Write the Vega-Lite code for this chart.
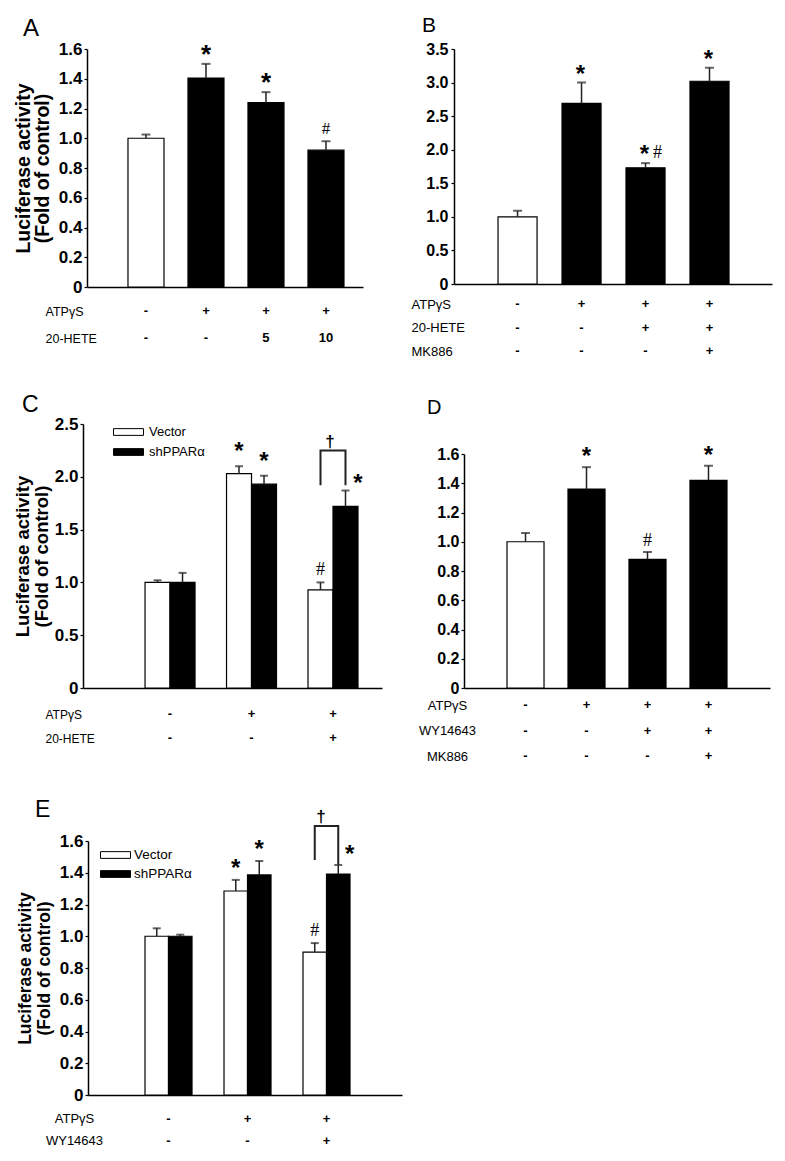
{
  "$schema": "https://vega.github.io/schema/vega-lite/v6.json",
  "padding": {"left": 13, "top": 15, "right": 5, "bottom": 5},
  "background": "white",
  "columns": 2,
  "bounds": "flush",
  "align": {"row": "each", "column": "each"},
  "spacing": {"row": 4, "column": 51},
  "resolve": {"scale": {"x": "independent", "y": "independent", "fill": "independent", "xOffset": "independent"}, "legend": {"fill": "independent"}},
  "datasets": {
    "A": [
      {"cond": "c1", "value": 1.0, "upper": 1.025, "star": "", "hash": ""},
      {"cond": "c2", "value": 1.405, "upper": 1.5, "star": "*", "hash": ""},
      {"cond": "c3", "value": 1.24, "upper": 1.31, "star": "*", "hash": ""},
      {"cond": "c4", "value": 0.92, "upper": 0.98, "star": "", "hash": "#"}
    ],
    "A_tab": [
      {"cond": "c1", "factor": "ATPγS", "val": "-"},
      {"cond": "c2", "factor": "ATPγS", "val": "+"},
      {"cond": "c3", "factor": "ATPγS", "val": "+"},
      {"cond": "c4", "factor": "ATPγS", "val": "+"},
      {"cond": "c1", "factor": "20-HETE", "val": "-"},
      {"cond": "c2", "factor": "20-HETE", "val": "-"},
      {"cond": "c3", "factor": "20-HETE", "val": "5"},
      {"cond": "c4", "factor": "20-HETE", "val": "10"}
    ],
    "B": [
      {"cond": "c1", "value": 1.0, "upper": 1.09, "star": "", "hash": ""},
      {"cond": "c2", "value": 2.69, "upper": 3.0, "star": "*", "hash": ""},
      {"cond": "c3", "value": 1.73, "upper": 1.8, "star": "*", "hash": "#"},
      {"cond": "c4", "value": 3.02, "upper": 3.22, "star": "*", "hash": ""}
    ],
    "B_tab": [
      {"cond": "c1", "factor": "ATPγS", "val": "-"},
      {"cond": "c2", "factor": "ATPγS", "val": "+"},
      {"cond": "c3", "factor": "ATPγS", "val": "+"},
      {"cond": "c4", "factor": "ATPγS", "val": "+"},
      {"cond": "c1", "factor": "20-HETE", "val": "-"},
      {"cond": "c2", "factor": "20-HETE", "val": "-"},
      {"cond": "c3", "factor": "20-HETE", "val": "+"},
      {"cond": "c4", "factor": "20-HETE", "val": "+"},
      {"cond": "c1", "factor": "MK886", "val": "-"},
      {"cond": "c2", "factor": "MK886", "val": "-"},
      {"cond": "c3", "factor": "MK886", "val": "-"},
      {"cond": "c4", "factor": "MK886", "val": "+"}
    ],
    "C": [
      {"grp": "g1", "series": "Vector", "value": 1.0, "upper": 1.02, "star": "", "hash": "", "star_r": ""},
      {"grp": "g1", "series": "shPPARα", "value": 1.0, "upper": 1.09, "star": "", "hash": "", "star_r": ""},
      {"grp": "g2", "series": "Vector", "value": 2.03, "upper": 2.1, "star": "*", "hash": "", "star_r": ""},
      {"grp": "g2", "series": "shPPARα", "value": 1.93, "upper": 2.01, "star": "*", "hash": "", "star_r": ""},
      {"grp": "g3", "series": "Vector", "value": 0.93, "upper": 1.0, "star": "", "hash": "#", "star_r": ""},
      {"grp": "g3", "series": "shPPARα", "value": 1.72, "upper": 1.87, "star": "", "hash": "", "star_r": "*"}
    ],
    "C_br": [
      {"grp": "g3", "series": "Vector", "y": 1.92, "o": 1},
      {"grp": "g3", "series": "Vector", "y": 2.25, "o": 2},
      {"grp": "g3", "series": "shPPARα", "y": 2.25, "o": 3},
      {"grp": "g3", "series": "shPPARα", "y": 1.92, "o": 4}
    ],
    "C_dag": [{"grp": "g3", "y": 2.25, "sym": "†"}],
    "C_tab": [
      {"grp": "g1", "factor": "ATPγS", "val": "-"},
      {"grp": "g2", "factor": "ATPγS", "val": "+"},
      {"grp": "g3", "factor": "ATPγS", "val": "+"},
      {"grp": "g1", "factor": "20-HETE", "val": "-"},
      {"grp": "g2", "factor": "20-HETE", "val": "-"},
      {"grp": "g3", "factor": "20-HETE", "val": "+"}
    ],
    "D": [
      {"cond": "c1", "value": 1.0, "upper": 1.06, "star": "", "hash": ""},
      {"cond": "c2", "value": 1.36, "upper": 1.51, "star": "*", "hash": ""},
      {"cond": "c3", "value": 0.88, "upper": 0.93, "star": "", "hash": "#"},
      {"cond": "c4", "value": 1.42, "upper": 1.52, "star": "*", "hash": ""}
    ],
    "D_tab": [
      {"cond": "c1", "factor": "ATPγS", "val": "-"},
      {"cond": "c2", "factor": "ATPγS", "val": "+"},
      {"cond": "c3", "factor": "ATPγS", "val": "+"},
      {"cond": "c4", "factor": "ATPγS", "val": "+"},
      {"cond": "c1", "factor": "WY14643", "val": "-"},
      {"cond": "c2", "factor": "WY14643", "val": "-"},
      {"cond": "c3", "factor": "WY14643", "val": "+"},
      {"cond": "c4", "factor": "WY14643", "val": "+"},
      {"cond": "c1", "factor": "MK886", "val": "-"},
      {"cond": "c2", "factor": "MK886", "val": "-"},
      {"cond": "c3", "factor": "MK886", "val": "-"},
      {"cond": "c4", "factor": "MK886", "val": "+"}
    ],
    "E": [
      {"grp": "g1", "series": "Vector", "value": 1.0, "upper": 1.05, "star": "", "hash": "", "star_r": ""},
      {"grp": "g1", "series": "shPPARα", "value": 1.0, "upper": 1.01, "star": "", "hash": "", "star_r": ""},
      {"grp": "g2", "series": "Vector", "value": 1.285, "upper": 1.355, "star": "*", "hash": "", "star_r": ""},
      {"grp": "g2", "series": "shPPARα", "value": 1.386, "upper": 1.474, "star": "*", "hash": "", "star_r": ""},
      {"grp": "g3", "series": "Vector", "value": 0.9, "upper": 0.957, "star": "", "hash": "#", "star_r": ""},
      {"grp": "g3", "series": "shPPARα", "value": 1.392, "upper": 1.449, "star": "", "hash": "", "star_r": "*"}
    ],
    "E_br": [
      {"grp": "g3", "series": "Vector", "y": 1.48, "o": 1},
      {"grp": "g3", "series": "Vector", "y": 1.695, "o": 2},
      {"grp": "g3", "series": "shPPARα", "y": 1.695, "o": 3},
      {"grp": "g3", "series": "shPPARα", "y": 1.45, "o": 4}
    ],
    "E_dag": [{"grp": "g3", "y": 1.695, "sym": "†"}],
    "E_tab": [
      {"grp": "g1", "factor": "ATPγS", "val": "-"},
      {"grp": "g2", "factor": "ATPγS", "val": "+"},
      {"grp": "g3", "factor": "ATPγS", "val": "+"},
      {"grp": "g1", "factor": "WY14643", "val": "-"},
      {"grp": "g2", "factor": "WY14643", "val": "-"},
      {"grp": "g3", "factor": "WY14643", "val": "+"}
    ],
    "empty": []
  },
  "concat": [
    {
      "width": 320, "height": 238,
      "title": {"text": "A", "anchor": "start", "frame": "group", "dx": -60, "offset": -1, "fontSize": 24, "fontWeight": "normal"},
      "data": {"name": "A"},
      "encoding": {
        "x": {"field": "cond", "type": "nominal", "sort": null, "scale": {"type": "band", "range": [4, 280], "paddingInner": 0.4, "paddingOuter": 0.5, "align": 0.683}, "axis": {"labels": false, "ticks": false, "title": null}},
        "y": {"field": "value", "type": "quantitative", "scale": {"domain": [0, 1.6], "nice": false},
          "axis": {"offset": -4, "values": [0, 0.2, 0.4, 0.6, 0.8, 1, 1.2, 1.4, 1.6], "labelExpr": "datum.value == 0 ? '0' : format(datum.value, '.1f')", "title": ["Luciferase activity", "(Fold of control)"], "titleFontSize": 19.5, "titleFontWeight": "bold", "titleLineHeight": 19, "titlePadding": 6, "labelFontSize": 17, "labelFontWeight": "bold", "tickSize": 3, "labelPadding": 2}}
      },
      "layer": [
        {"mark": {"type": "bar", "stroke": "black", "strokeWidth": 1.2}, "encoding": {"fill": {"condition": {"test": "datum.cond == 'c1'", "value": "white"}, "value": "black"}}},
        {"mark": {"type": "rule", "strokeWidth": 1.5, "color": "#222"}, "encoding": {"y2": {"field": "upper"}}},
        {"mark": {"type": "tick", "thickness": 2, "size": 9, "color": "#222"}, "encoding": {"y": {"field": "upper", "type": "quantitative"}}},
        {"mark": {"type": "text", "fontSize": 26, "fontWeight": "bold", "baseline": "alphabetic", "dy": -1}, "encoding": {"y": {"field": "upper", "type": "quantitative"}, "text": {"field": "star"}}},
        {"mark": {"type": "text", "fontSize": 17, "font": "Liberation Serif", "baseline": "alphabetic", "dy": -7}, "encoding": {"y": {"field": "upper", "type": "quantitative"}, "text": {"field": "hash"}}}
      ]
    },
    {
      "width": 318, "height": 235,
      "title": {"text": "B", "anchor": "start", "frame": "group", "dx": -32, "offset": 5, "fontSize": 21, "fontWeight": "normal"},
      "data": {"name": "B"},
      "encoding": {
        "x": {"field": "cond", "type": "nominal", "sort": null, "scale": {"type": "band", "paddingInner": 0.39, "paddingOuter": 0.68, "align": 0.506}, "axis": {"labels": false, "ticks": false, "title": null}},
        "y": {"field": "value", "type": "quantitative", "scale": {"domain": [0, 3.5], "nice": false},
          "axis": {"values": [0, 0.5, 1, 1.5, 2, 2.5, 3, 3.5], "labelExpr": "datum.value == 0 ? '0' : format(datum.value, '.1f')", "title": null, "labelFontSize": 16, "labelFontWeight": "bold", "tickSize": 3, "labelPadding": 3}}
      },
      "layer": [
        {"mark": {"type": "bar", "stroke": "black", "strokeWidth": 1.2}, "encoding": {"fill": {"condition": {"test": "datum.cond == 'c1'", "value": "white"}, "value": "black"}}},
        {"mark": {"type": "rule", "strokeWidth": 1.5, "color": "#222"}, "encoding": {"y2": {"field": "upper"}}},
        {"mark": {"type": "tick", "thickness": 2, "size": 9, "color": "#222"}, "encoding": {"y": {"field": "upper", "type": "quantitative"}}},
        {"mark": {"type": "text", "fontSize": 24, "fontWeight": "bold", "baseline": "alphabetic", "dy": -1, "dx": -1}, "encoding": {"y": {"field": "upper", "type": "quantitative"}, "text": {"field": "star"}}},
        {"mark": {"type": "text", "fontSize": 18, "font": "Liberation Serif", "baseline": "alphabetic", "dy": -5, "dx": 12}, "encoding": {"y": {"field": "upper", "type": "quantitative"}, "text": {"field": "hash"}}}
      ]
    },
    {
      "width": 320, "height": 129,
      "data": {"name": "A_tab"},
      "mark": {"type": "text", "fontSize": 13, "fontWeight": "bold"},
      "encoding": {
        "x": {"field": "cond", "type": "nominal", "sort": null, "scale": {"type": "band", "range": [4, 280], "paddingInner": 0.4, "paddingOuter": 0.5, "align": 0.683}, "axis": null},
        "y": {"field": "factor", "type": "nominal", "sort": ["ATPγS", "20-HETE"], "scale": {"type": "point", "padding": 0, "range": [20, 47]}, "axis": {"title": null, "domain": false, "ticks": false, "tickSize": 0, "labelAlign": "left", "labelPadding": 38, "labelFontSize": 12.5, "labelFontWeight": "normal"}},
        "text": {"field": "val"}
      }
    },
    {
      "width": 318, "height": 129,
      "data": {"name": "B_tab"},
      "mark": {"type": "text", "fontSize": 13, "fontWeight": "bold"},
      "encoding": {
        "x": {"field": "cond", "type": "nominal", "sort": null, "scale": {"type": "band", "paddingInner": 0.39, "paddingOuter": 0.68, "align": 0.506}, "axis": null},
        "y": {"field": "factor", "type": "nominal", "sort": ["ATPγS", "20-HETE", "MK886"], "scale": {"type": "point", "padding": 0, "range": [13, 60]}, "axis": {"title": null, "domain": false, "ticks": false, "tickSize": 0, "labelAlign": "left", "labelPadding": 43, "labelFontSize": 13, "labelFontWeight": "normal"}},
        "text": {"field": "val"}
      }
    },
    {
      "width": 320, "height": 264,
      "title": {"text": "C", "anchor": "start", "frame": "group", "dx": -61, "offset": -2, "fontSize": 23, "fontWeight": "normal"},
      "encoding": {
        "x": {"field": "grp", "type": "nominal", "sort": null, "scale": {"type": "band", "range": [0, 299], "paddingInner": 0.3865, "paddingOuter": 0.528, "align": 0.721}, "axis": {"labels": false, "ticks": false, "title": null}},
        "xOffset": {"field": "series", "type": "nominal", "sort": ["Vector", "shPPARα"], "scale": {"type": "band", "paddingInner": 0, "paddingOuter": 0}},
        "y": {"field": "value", "type": "quantitative", "scale": {"domain": [0, 2.5], "nice": false},
          "axis": {"values": [0, 0.5, 1, 1.5, 2, 2.5], "labelExpr": "datum.value == 0 ? '0' : format(datum.value, '.1f')", "title": ["Luciferase activity", "(Fold of control)"], "titleFontSize": 18.5, "titleFontWeight": "bold", "titleLineHeight": 19, "titlePadding": 3, "labelFontSize": 17, "labelFontWeight": "bold", "tickSize": 3, "labelPadding": 2}}
      },
      "layer": [
        {
          "data": {"name": "C"},
          "mark": {"type": "bar", "stroke": "black", "strokeWidth": 1.2},
          "encoding": {
            "fill": {"field": "series", "type": "nominal", "sort": ["Vector", "shPPARα"], "scale": {"domain": ["Vector", "shPPARα"], "range": ["white", "black"]},
              "legend": {"title": null, "orient": "none", "legendX": 37.5, "legendY": 0, "padding": 0, "symbolType": "M-2,-0.45H2V0.45H-2Z", "symbolSize": 225, "symbolStrokeColor": "black", "symbolStrokeWidth": 1, "labelFontSize": 13, "labelOffset": 12.5, "rowPadding": 5}}
          }
        },
        {"data": {"name": "C"}, "mark": {"type": "rule", "strokeWidth": 1.5, "color": "#222"}, "encoding": {"y2": {"field": "upper"}}},
        {"data": {"name": "C"}, "mark": {"type": "tick", "thickness": 2, "size": 8, "color": "#222"}, "encoding": {"y": {"field": "upper", "type": "quantitative"}}},
        {"data": {"name": "C"}, "mark": {"type": "text", "fontSize": 24, "fontWeight": "bold", "baseline": "alphabetic", "dy": -7}, "encoding": {"y": {"field": "upper", "type": "quantitative"}, "text": {"field": "star"}}},
        {"data": {"name": "C"}, "mark": {"type": "text", "fontSize": 24, "fontWeight": "bold", "baseline": "alphabetic", "dy": 0, "dx": 12.5}, "encoding": {"y": {"field": "upper", "type": "quantitative"}, "text": {"field": "star_r"}}},
        {"data": {"name": "C"}, "mark": {"type": "text", "fontSize": 18, "font": "Liberation Serif", "baseline": "alphabetic", "dy": -7}, "encoding": {"y": {"field": "upper", "type": "quantitative"}, "text": {"field": "hash"}}},
        {"data": {"name": "C_br"}, "mark": {"type": "line", "color": "#222", "strokeWidth": 2}, "encoding": {"y": {"field": "y", "type": "quantitative"}, "order": {"field": "o"}}},
        {"data": {"name": "C_dag"}, "mark": {"type": "text", "fontSize": 17, "fontWeight": "bold", "baseline": "alphabetic", "dy": -3, "dx": -3}, "encoding": {"xOffset": null, "y": {"field": "y", "type": "quantitative"}, "text": {"field": "sym"}}}
      ]
    },
    {
      "width": 316, "height": 264,
      "title": {"text": "D", "anchor": "start", "frame": "group", "dx": -27, "offset": 6, "fontSize": 20, "fontWeight": "normal"},
      "data": {"name": "D"},
      "encoding": {
        "x": {"field": "cond", "type": "nominal", "sort": null, "scale": {"type": "band", "range": [10, 316], "paddingInner": 0.393, "paddingOuter": 0.705, "align": 0.5}, "axis": {"labels": false, "ticks": false, "title": null}},
        "y": {"field": "value", "type": "quantitative", "scale": {"domain": [0, 1.6], "nice": false, "range": [264, 30]},
          "axis": {"offset": -10, "values": [0, 0.2, 0.4, 0.6, 0.8, 1, 1.2, 1.4, 1.6], "labelExpr": "datum.value == 0 ? '0' : format(datum.value, '.1f')", "title": null, "labelFontSize": 16, "labelFontWeight": "bold", "tickSize": 3, "labelPadding": 2}}
      },
      "layer": [
        {"mark": {"type": "bar", "stroke": "black", "strokeWidth": 1.2}, "encoding": {"fill": {"condition": {"test": "datum.cond == 'c1'", "value": "white"}, "value": "black"}}},
        {"mark": {"type": "rule", "strokeWidth": 1.5, "color": "#222"}, "encoding": {"y2": {"field": "upper"}}},
        {"mark": {"type": "tick", "thickness": 2, "size": 9, "color": "#222"}, "encoding": {"y": {"field": "upper", "type": "quantitative"}}},
        {"mark": {"type": "text", "fontSize": 24, "fontWeight": "bold", "baseline": "alphabetic", "dy": -3}, "encoding": {"y": {"field": "upper", "type": "quantitative"}, "text": {"field": "star"}}},
        {"mark": {"type": "text", "fontSize": 18, "font": "Liberation Serif", "baseline": "alphabetic", "dy": -6}, "encoding": {"y": {"field": "upper", "type": "quantitative"}, "text": {"field": "hash"}}}
      ]
    },
    {
      "width": 320, "height": 134.25,
      "data": {"name": "C_tab"},
      "mark": {"type": "text", "fontSize": 13, "fontWeight": "bold"},
      "encoding": {
        "x": {"field": "grp", "type": "nominal", "sort": null, "scale": {"type": "band", "range": [0, 299], "paddingInner": 0.3865, "paddingOuter": 0.528, "align": 0.721}, "axis": null},
        "y": {"field": "factor", "type": "nominal", "sort": ["ATPγS", "20-HETE"], "scale": {"type": "point", "padding": 0, "range": [22, 46]}, "axis": {"title": null, "domain": false, "ticks": false, "tickSize": 0, "labelAlign": "left", "labelPadding": 38, "labelFontSize": 12, "labelFontWeight": "normal"}},
        "text": {"field": "val"}
      }
    },
    {
      "width": 316, "height": 134.25,
      "data": {"name": "D_tab"},
      "mark": {"type": "text", "fontSize": 13, "fontWeight": "bold"},
      "encoding": {
        "x": {"field": "cond", "type": "nominal", "sort": null, "scale": {"type": "band", "range": [10, 316], "paddingInner": 0.393, "paddingOuter": 0.705, "align": 0.5}, "axis": null},
        "y": {"field": "factor", "type": "nominal", "sort": ["ATPγS", "WY14643", "MK886"], "scale": {"type": "point", "padding": 0, "range": [13, 64]}, "axis": {"title": null, "domain": false, "ticks": false, "tickSize": 0, "labelAlign": "center", "labelPadding": 7, "labelFontSize": 13, "labelFontWeight": "normal"}},
        "text": {"field": "val"}
      }
    },
    {
      "width": 320, "height": 264,
      "title": {"text": "E", "anchor": "start", "frame": "group", "dx": -48, "offset": -14, "fontSize": 23, "fontWeight": "normal"},
      "encoding": {
        "x": {"field": "grp", "type": "nominal", "sort": null, "scale": {"type": "band", "range": [5, 319], "paddingInner": 0.405, "paddingOuter": 0.69, "align": 0.523}, "axis": {"labels": false, "ticks": false, "title": null}},
        "xOffset": {"field": "series", "type": "nominal", "sort": ["Vector", "shPPARα"], "scale": {"type": "band", "paddingInner": 0, "paddingOuter": 0}},
        "y": {"field": "value", "type": "quantitative", "scale": {"domain": [0, 1.6], "nice": false, "range": [264, 10]},
          "axis": {"offset": -5, "values": [0, 0.2, 0.4, 0.6, 0.8, 1, 1.2, 1.4, 1.6], "labelExpr": "datum.value == 0 ? '0' : format(datum.value, '.1f')", "title": ["Luciferase activity", "(Fold of control)"], "titleFontSize": 17.5, "titleFontWeight": "bold", "titleLineHeight": 19, "titlePadding": 6, "labelFontSize": 17, "labelFontWeight": "bold", "tickSize": 3, "labelPadding": 2}}
      },
      "layer": [
        {
          "data": {"name": "E"},
          "mark": {"type": "bar", "stroke": "black", "strokeWidth": 1.2},
          "encoding": {
            "fill": {"field": "series", "type": "nominal", "sort": ["Vector", "shPPARα"], "scale": {"domain": ["Vector", "shPPARα"], "range": ["white", "black"]},
              "legend": {"title": null, "orient": "none", "legendX": 24.5, "legendY": 16, "padding": 0, "symbolType": "M-2,-0.45H2V0.45H-2Z", "symbolSize": 225, "symbolStrokeColor": "black", "symbolStrokeWidth": 1, "labelFontSize": 13.5, "labelOffset": 10.5, "rowPadding": 4}}
          }
        },
        {"data": {"name": "E"}, "mark": {"type": "rule", "strokeWidth": 1.5, "color": "#222"}, "encoding": {"y2": {"field": "upper"}}},
        {"data": {"name": "E"}, "mark": {"type": "tick", "thickness": 2, "size": 8, "color": "#222"}, "encoding": {"y": {"field": "upper", "type": "quantitative"}}},
        {"data": {"name": "E"}, "mark": {"type": "text", "fontSize": 24, "fontWeight": "bold", "baseline": "alphabetic", "dy": -4}, "encoding": {"y": {"field": "upper", "type": "quantitative"}, "text": {"field": "star"}}},
        {"data": {"name": "E"}, "mark": {"type": "text", "fontSize": 24, "fontWeight": "bold", "baseline": "alphabetic", "dy": -3, "dx": 11.5}, "encoding": {"y": {"field": "upper", "type": "quantitative"}, "text": {"field": "star_r"}}},
        {"data": {"name": "E"}, "mark": {"type": "text", "fontSize": 18, "font": "Liberation Serif", "baseline": "alphabetic", "dy": -7}, "encoding": {"y": {"field": "upper", "type": "quantitative"}, "text": {"field": "hash"}}},
        {"data": {"name": "E_br"}, "mark": {"type": "line", "color": "#222", "strokeWidth": 2}, "encoding": {"y": {"field": "y", "type": "quantitative"}, "order": {"field": "o"}}},
        {"data": {"name": "E_dag"}, "mark": {"type": "text", "fontSize": 17, "fontWeight": "bold", "baseline": "alphabetic", "dy": -4, "dx": -5.5}, "encoding": {"xOffset": null, "y": {"field": "y", "type": "quantitative"}, "text": {"field": "sym"}}}
      ]
    },
    {
      "width": 10, "height": 10,
      "data": {"name": "empty"},
      "mark": {"type": "point"},
      "encoding": {}
    },
    {
      "width": 320, "height": 50,
      "data": {"name": "E_tab"},
      "mark": {"type": "text", "fontSize": 13, "fontWeight": "bold"},
      "encoding": {
        "x": {"field": "grp", "type": "nominal", "sort": null, "scale": {"type": "band", "range": [5, 319], "paddingInner": 0.405, "paddingOuter": 0.69, "align": 0.523}, "axis": null},
        "y": {"field": "factor", "type": "nominal", "sort": ["ATPγS", "WY14643"], "scale": {"type": "point", "padding": 0, "range": [19.75, 41.75]}, "axis": {"title": null, "domain": false, "ticks": false, "tickSize": 0, "labelAlign": "center", "labelPadding": 9, "labelFontSize": 13, "labelFontWeight": "normal"}},
        "text": {"field": "val"}
      }
    }
  ],
  "config": {
    "view": {"stroke": null},
    "font": "Liberation Sans",
    "axis": {"domainColor": "black", "domainWidth": 1.5, "tickColor": "black", "tickWidth": 1.2, "labelColor": "black", "titleColor": "black", "grid": false, "labelFont": "Liberation Sans", "titleFont": "Liberation Sans"},
    "legend": {"labelColor": "black", "labelFont": "Liberation Sans"},
    "title": {"color": "black", "font": "Liberation Sans"},
    "text": {"color": "black"}
  }
}
